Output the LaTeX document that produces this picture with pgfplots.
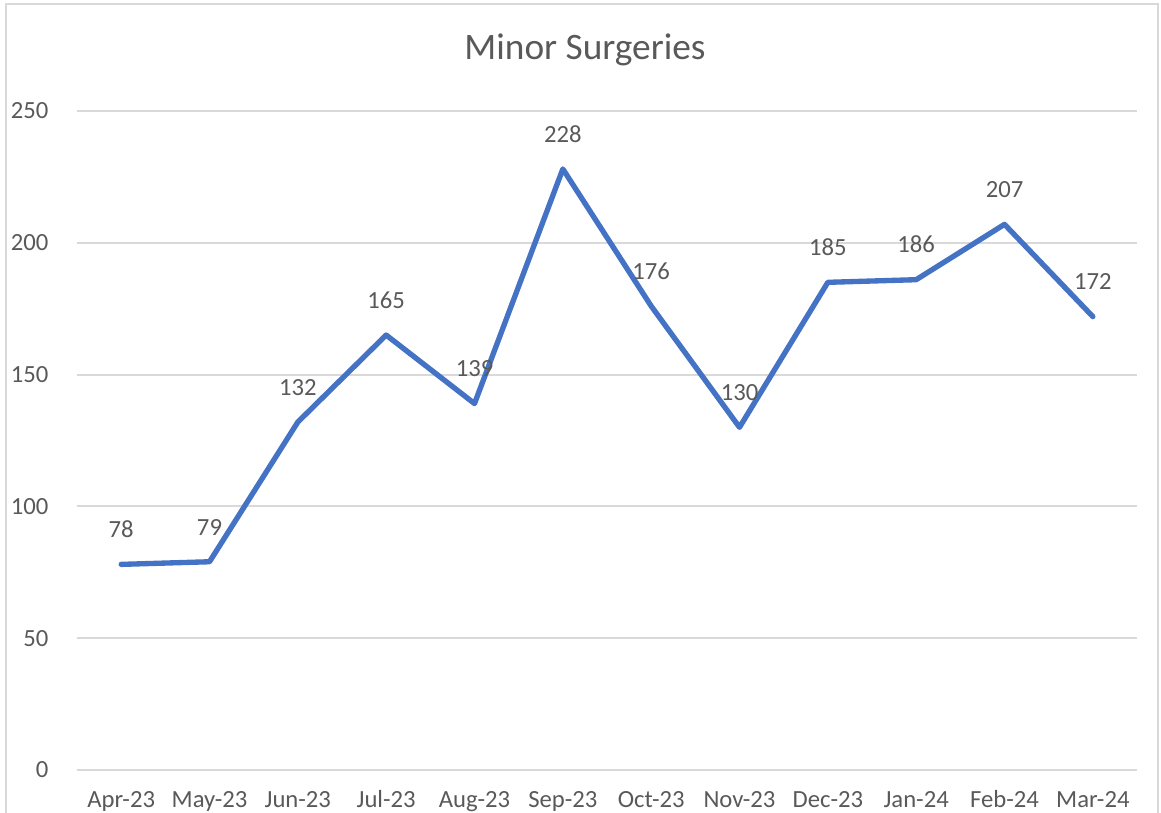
\documentclass[border=0pt]{standalone}
\usepackage{fontspec}
\setmainfont{Carlito}
\usepackage{pgfplots}
\pgfplotsset{compat=1.18}
\definecolor{txt}{HTML}{595959}
\definecolor{ln}{HTML}{4472C4}
\definecolor{grd}{HTML}{D9D9D9}
\begin{document}
\begin{tikzpicture}[x=0.75pt,y=0.75pt]
\useasboundingbox (0,0) rectangle (1161,813);
\begin{scope}
\clip (0,0) rectangle (1161,813);
\draw[grd, line width=1.5pt] (6,-20) -- (6,809) -- (1158,809) -- (1158,-20);
\end{scope}
\node[txt, font=\fontsize{28}{32}\selectfont] at (585,763) {Minor Surgeries};
\begin{axis}[
  at={(57.75pt,32.25pt)}, anchor=south west,
  scale only axis, width=795pt, height=494.25pt,
  xmin=-0.5, xmax=11.5, ymin=0, ymax=250,
  xtick={0,...,11},
  xticklabels={Apr-23,May-23,Jun-23,Jul-23,Aug-23,Sep-23,Oct-23,Nov-23,Dec-23,Jan-24,Feb-24,Mar-24},
  minor xtick={-0.5,0.5,...,11.5},
  ytick={0,50,...,250},
  axis lines*=left,
  x axis line style={grd, line width=1.5pt, -},
  y axis line style={draw=none},
  xtick style={draw=none},
  ytick style={draw=none},
  minor x tick style={grd, line width=1.5pt},
  tick align=outside,
  minor tick length=5.25pt,
  ymajorgrids,
  major grid style={grd, line width=1.5pt},
  /pgf/number format/assume math mode=true,
  ticklabel style={txt, font=\fontsize{18.5}{22}\selectfont},
  yticklabel style={inner sep=0pt, anchor=east, xshift=-17pt},
  xticklabel style={inner sep=0pt, anchor=base, yshift=-23.5pt},
  nodes near coords,
  every node near coord/.append style={txt, font=\fontsize{18.5}{22}\selectfont, inner sep=0pt, anchor=south, yshift=18pt},
  clip=false,
]
\addplot[ln, line width=4pt, line join=round, line cap=round, mark=none] coordinates {
(0,78) (1,79) (2,132) (3,165) (4,139) (5,228) (6,176) (7,130) (8,185) (9,186) (10,207) (11,172)
};
\end{axis}
\end{tikzpicture}
\end{document}
